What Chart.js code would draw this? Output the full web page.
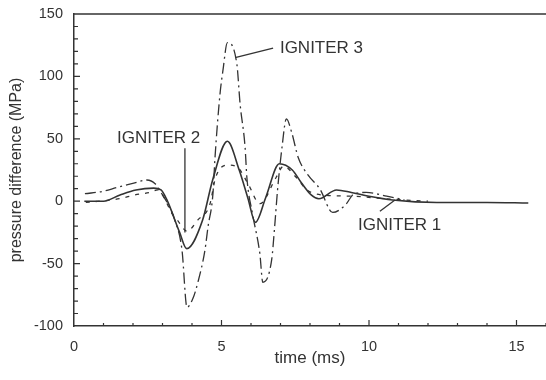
<!DOCTYPE html>
<html>
<head>
<meta charset="utf-8">
<script src="https://cdn.jsdelivr.net/npm/chart.js@4"></script>
<style>
  html, body { margin: 0; background: #fff; }
  #wrap { width: 546px; height: 380px; }
</style>
</head>
<body>
<div id="wrap"><canvas id="c"></canvas></div>
<script>
// tick labels
const xTicks = [0, 5, 10, 15];
const yTicks = [-100, -50, 0, 50, 100, 150];

// IGNITER 1 (solid)
const t1 = [0.35, 1.0, 1.56, 2.1, 2.7, 2.95, 3.15, 3.58, 3.82, 4.36, 4.7, 5.2, 5.6, 5.9, 6.15, 6.5, 6.96, 7.4, 7.7, 8.04, 8.3, 8.9, 9.4, 10.0, 10.8, 12.3, 14.0, 15.4];
const p1 = [0, 0, 5, 9, 10.5, 9, 1, -25, -38, -15, 17, 48, 25, 2, -17, 3, 30, 25, 15, 5, 2, 9, 7, 4, 1, -1, -1, -1.5];

// IGNITER 2 (short dashes)
const t2 = [0.4, 1.55, 2.06, 2.57, 2.84, 3.05, 3.3, 3.5, 3.83, 4.2, 4.6, 4.8, 5.2, 5.55, 5.9, 6.3, 6.85, 7.1, 7.5, 7.9, 8.4, 9.5, 10.5, 12.0];
const p2 = [-1, 2, 5, 7, 9, 3, -9, -15, -24, -15, -3, 19, 29, 27, 14, -2, 19, 28, 20, 9, 5, 4, 2, 0];

// IGNITER 3 (dash-dot)
const t3 = [0.37, 1.0, 1.45, 1.96, 2.47, 2.75, 3.0, 3.2, 3.4, 3.66, 3.83, 4.03, 4.2, 4.44, 4.54, 4.71, 4.78, 4.95, 5.05, 5.2, 5.52, 5.63, 5.8, 5.86, 6.05, 6.3, 6.4, 6.7, 6.8, 6.9, 7.05, 7.2, 7.38, 7.6, 7.93, 8.33, 8.77, 9.2, 9.5, 9.9, 10.6, 11.2];
const p3 = [6, 8, 11, 14, 17, 14, 5, -3, -14, -39, -85, -78, -65, -39, -21, 6, 35, 86, 105, 127, 110, 78, 43, 19, -10, -42, -65, -47, -21, 9, 43, 66, 55, 35, 21, 10, -9, -3, 6, 7, 4, 1];

// labels and their leader lines, in data units
const labelText = ['IGNITER 1', 'IGNITER 2', 'IGNITER 3'];
const labelAt = [[9.63, -19], [1.46, 50.5], [6.98, 122.6]];
const leaders = [
  [[10.37, -8], [10.88, 1]],
  [[3.76, 42.5], [3.76, -25]],
  [[5.46, 115], [6.75, 122.6]]
];

const INK = '#333';
const pts = (t, p) => t.map((v, i) => ({ x: v, y: p[i] }));

const frame = {
  id: 'frame',
  beforeDatasetsDraw(chart) {
    const { ctx, chartArea: a, scales: { x, y } } = chart;
    ctx.save();
    ctx.strokeStyle = INK;
    ctx.lineWidth = 1.5;
    ctx.beginPath();
    ctx.moveTo(a.left, a.top);
    ctx.lineTo(a.right, a.top);
    ctx.stroke();
    ctx.lineWidth = 1.2;
    ctx.beginPath();
    for (let v = x.min + 1; v <= x.max; v++) {
      const px = x.getPixelForValue(v);
      ctx.moveTo(px, a.bottom);
      ctx.lineTo(px, a.bottom - (v % 5 === 0 ? 6 : 3));
    }
    for (let v = y.min + 10; v < y.max; v += 10) {
      const py = y.getPixelForValue(v);
      ctx.moveTo(a.left, py);
      ctx.lineTo(a.left + (v % 50 === 0 ? 6 : 4), py);
    }
    ctx.stroke();
    ctx.restore();
  },
  afterDatasetsDraw(chart) {
    const { ctx, scales: { x, y } } = chart;
    ctx.save();
    ctx.strokeStyle = INK;
    ctx.lineWidth = 1.3;
    leaders.forEach(l => {
      ctx.beginPath();
      ctx.moveTo(x.getPixelForValue(l[0][0]), y.getPixelForValue(l[0][1]));
      ctx.lineTo(x.getPixelForValue(l[1][0]), y.getPixelForValue(l[1][1]));
      ctx.stroke();
    });
    ctx.fillStyle = INK;
    ctx.font = '17px "Liberation Sans", Arial, sans-serif';
    ctx.textAlign = 'left';
    ctx.textBaseline = 'middle';
    labelText.forEach((s, i) => {
      ctx.fillText(s, x.getPixelForValue(labelAt[i][0]), y.getPixelForValue(labelAt[i][1]));
    });
    ctx.restore();
  }
};

const lineSet = (t, p, dash, w) => ({
  data: pts(t, p),
  borderColor: INK,
  borderWidth: w,
  borderDash: dash,
  cubicInterpolationMode: 'monotone',
  pointRadius: 0,
  fill: false
});

new Chart(document.getElementById('c'), {
  type: 'line',
  data: {
    datasets: [
      lineSet(t1, p1, [], 1.6),
      lineSet(t2, p2, [4, 6], 1.3),
      lineSet(t3, p3, [11, 4, 2, 4], 1.3)
    ]
  },
  options: {
    responsive: true,
    maintainAspectRatio: false,
    animation: false,
    layout: { padding: { top: 0, right: 0, left: 0, bottom: 0 } },
    plugins: { legend: { display: false }, tooltip: { enabled: false } },
    scales: {
      x: {
        type: 'linear', min: 0, max: 16,
        afterBuildTicks: s => { s.ticks = xTicks.map(v => ({ value: v })); },
        afterFit: s => { s.height = 54; },
        grid: { drawOnChartArea: false, drawTicks: false },
        border: { color: INK, width: 1.5 },
        ticks: { padding: 12, color: INK, font: { family: '"Liberation Sans", Arial', size: 14.5 } },
        title: {
          display: true, text: 'time (ms)', color: INK,
          font: { family: '"Liberation Sans", Arial', size: 17 },
          padding: { top: 0, bottom: 11 }
        }
      },
      y: {
        min: -100, max: 150,
        afterBuildTicks: s => { s.ticks = yTicks.map(v => ({ value: v })); },
        afterFit: s => { s.width = 74; s.paddingTop = 14; },
        grid: { drawOnChartArea: false, drawTicks: false },
        border: { color: INK, width: 1.5 },
        ticks: { padding: 11, color: INK, font: { family: '"Liberation Sans", Arial', size: 14.5 } },
        title: {
          display: true, text: 'pressure difference (MPa)', color: INK,
          font: { family: '"Liberation Sans", Arial', size: 16 },
          padding: { top: 7, bottom: 0 }
        }
      }
    }
  },
  plugins: [frame]
});
</script>
</body>
</html>
